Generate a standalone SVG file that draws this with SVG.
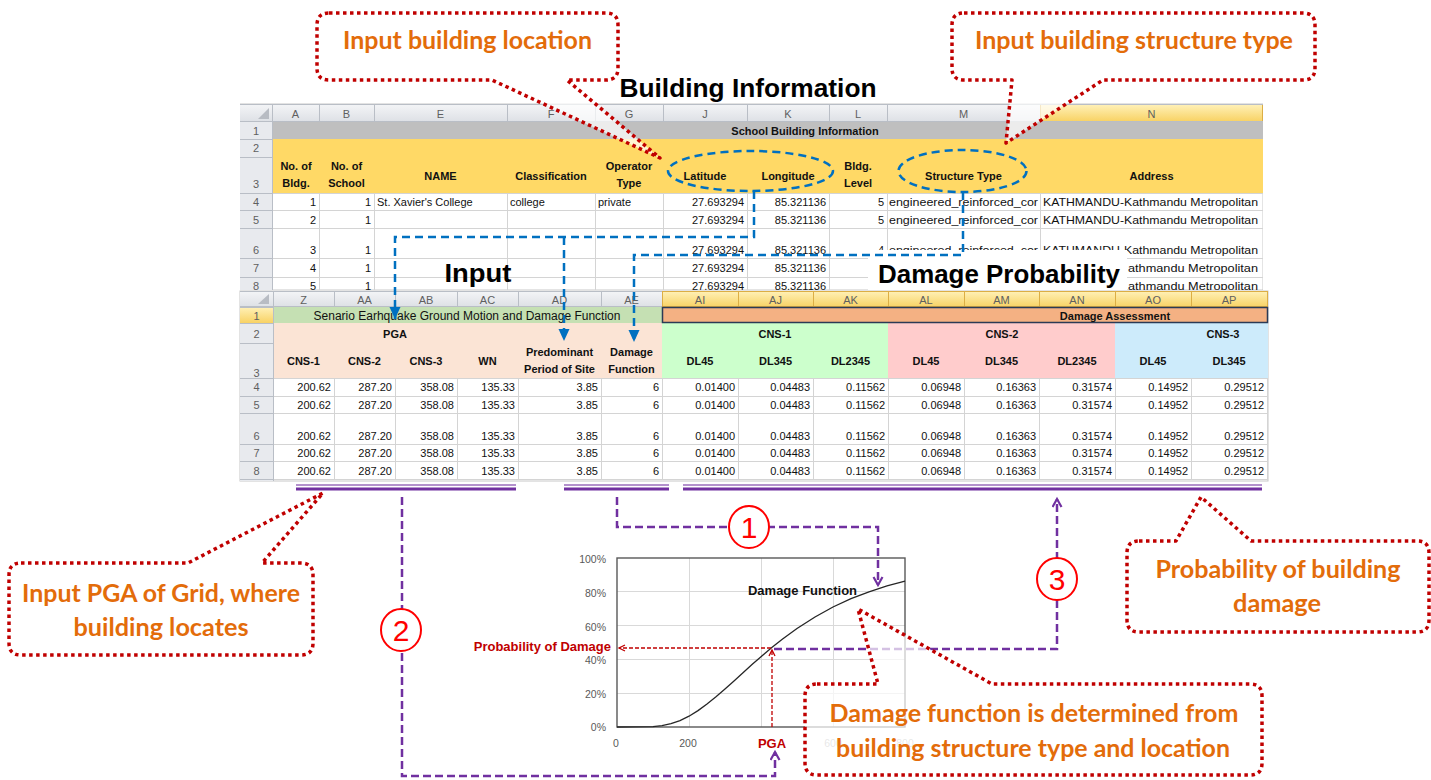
<svg xmlns="http://www.w3.org/2000/svg" width="1431" height="780" viewBox="0 0 1431 780">
<style>
text{font-family:"Liberation Sans",Arial,sans-serif}
.h{font-size:11px;fill:#5f5f5f;text-anchor:middle}
.c{font-size:11px;fill:#111}
.r{text-anchor:end}
.cb{font-size:11px;fill:#111;font-weight:bold;text-anchor:middle}
.gl{stroke:#d4d4d4;stroke-width:1;fill:none}
.hl{stroke:#b9bec6;stroke-width:1;fill:none}
.hg{stroke:#dcae45;stroke-width:1;fill:none}
.co{fill:#fff;fill-opacity:.7;stroke:#c00000;stroke-width:3.5;stroke-dasharray:3.5 3.5;stroke-linejoin:round}
.ct{font-family:Lato,"Liberation Sans",sans-serif;font-weight:bold;font-size:25px;fill:#e36c0a;text-anchor:middle}
.tt{font-weight:bold;font-size:26px;fill:#000;text-anchor:middle}
.bl{fill:none;stroke:#0070c0;stroke-width:2.5;stroke-dasharray:8 5}
.pl{fill:none;stroke:#7030a0;stroke-width:2.5;stroke-dasharray:8 4}
.rd{fill:none;stroke:#c00000;stroke-width:1.3;stroke-dasharray:4 2}
.num{fill:#fff;stroke:#ff0000;stroke-width:2}
.nt{font-size:30px;fill:#ff0000;text-anchor:middle}
.ax{font-size:10.5px;fill:#595959}
.cg{stroke:#d9d9d9;stroke-width:1;fill:none}
</style>
<defs>
<linearGradient id="hgr" x1="0" y1="0" x2="0" y2="1"><stop offset="0" stop-color="#f4f5f7"/><stop offset="1" stop-color="#dde0e5"/></linearGradient>
<linearGradient id="sgr" x1="0" y1="0" x2="0" y2="1"><stop offset="0" stop-color="#fff1b8"/><stop offset="1" stop-color="#f8d264"/></linearGradient>
<clipPath id="clipTop"><rect x="240" y="103" width="1023" height="187"/></clipPath>
<marker id="ab" markerUnits="userSpaceOnUse" markerWidth="14" markerHeight="14" refX="12" refY="5.5" orient="auto"><path d="M0,0 L12,5.5 L0,11 z" fill="#0070c0"/></marker>
<marker id="ap" markerUnits="userSpaceOnUse" markerWidth="12" markerHeight="12" refX="9" refY="5.5" orient="auto"><path d="M1,1 L9,5.5 L1,10" fill="none" stroke="#7030a0" stroke-width="2.2"/></marker>
<marker id="ar" markerUnits="userSpaceOnUse" markerWidth="9" markerHeight="9" refX="7" refY="4" orient="auto"><path d="M1,1 L7,4 L1,7" fill="none" stroke="#c00000" stroke-width="1.3"/></marker>
</defs>

<rect width="1431" height="780" fill="#fff"/>

<!-- top spreadsheet -->
<g id="sheet-building-information" clip-path="url(#clipTop)">
<rect x="240" y="104" width="1023" height="186" fill="#fff" stroke="#c8c8c8"/>
<rect x="240" y="104" width="1023" height="18" fill="url(#hgr)"/>
<rect x="1040.5" y="104.5" width="222" height="17" fill="url(#sgr)" stroke="#dcae45"/>
<rect x="240" y="122" width="32" height="168" fill="#e8eaee"/>
<rect x="272" y="122" width="991" height="17" fill="#bfbfbf"/>
<rect x="272" y="139" width="991" height="54" fill="#ffd966"/>
<path class="gl" d="M272 193.5H1263M272 210.5H1263M272 228.5H1263M272 258.5H1263M272 277.5H1263M319.5 193V290M374.5 193V290M507.5 193V290M595.5 193V290M663.5 193V290M747.5 193V290M829.5 193V290M887.5 193V290M1040.5 193V290"/>
<path class="hl" d="M240 104.5H1263M240 121.5H1263M272.5 104V290M319.5 104V122M374.5 104V122M507.5 104V122M595.5 104V122M663.5 104V122M747.5 104V122M829.5 104V122M887.5 104V122M240 139.5H272M240 157.5H272M240 193.5H272M240 210.5H272M240 228.5H272M240 258.5H272M240 277.5H272"/>
<polygon points="258,119 269,119 269,108" fill="#b8bcc3"/>
<text class="h" x="295.5" y="118">A</text>
<text class="h" x="346.5" y="118">B</text>
<text class="h" x="440.5" y="118">E</text>
<text class="h" x="551" y="118">F</text>
<text class="h" x="629" y="118">G</text>
<text class="h" x="705" y="118">J</text>
<text class="h" x="788" y="118">K</text>
<text class="h" x="858" y="118">L</text>
<text class="h" x="963.5" y="118">M</text>
<text class="h" x="1151.5" y="118">N</text>
<text class="h" x="256" y="135">1</text>
<text class="h" x="256" y="152">2</text>
<text class="h" x="256" y="188">3</text>
<text class="h" x="256" y="206">4</text>
<text class="h" x="256" y="224">5</text>
<text class="h" x="256" y="254">6</text>
<text class="h" x="256" y="272">7</text>
<text class="h" x="256" y="290">8</text>
<text class="cb" x="805" y="135">School Building Information</text>
<text class="cb" x="296" y="170">No. of</text>
<text class="cb" x="296" y="187">Bldg.</text>
<text class="cb" x="346.5" y="170">No. of</text>
<text class="cb" x="346.5" y="187">School</text>
<text class="cb" x="440.5" y="180">NAME</text>
<text class="cb" x="551" y="180">Classification</text>
<text class="cb" x="629" y="170">Operator</text>
<text class="cb" x="629" y="187">Type</text>
<text class="cb" x="705" y="180">Latitude</text>
<text class="cb" x="788" y="180">Longitude</text>
<text class="cb" x="858" y="170">Bldg.</text>
<text class="cb" x="858" y="187">Level</text>
<text class="cb" x="963.5" y="180">Structure Type</text>
<text class="cb" x="1151.5" y="180">Address</text>
<!-- row 4 -->
<text class="c r" x="316" y="206">1</text>
<text class="c r" x="371" y="206">1</text>
<text class="c" x="377" y="206">St. Xavier's College</text>
<text class="c" x="510" y="206">college</text>
<text class="c" x="598" y="206">private</text>
<text class="c r" x="744" y="206">27.693294</text>
<text class="c r" x="826" y="206">85.321136</text>
<text class="c r" x="884" y="206">5</text>
<text class="c" x="889" y="206" textLength="149" lengthAdjust="spacingAndGlyphs">engineered_reinforced_cor</text>
<text class="c" x="1043" y="206" textLength="215" lengthAdjust="spacingAndGlyphs">KATHMANDU-Kathmandu Metropolitan</text>
<!-- row 5 -->
<text class="c r" x="316" y="224">2</text>
<text class="c r" x="371" y="224">1</text>
<text class="c r" x="744" y="224">27.693294</text>
<text class="c r" x="826" y="224">85.321136</text>
<text class="c r" x="884" y="224">5</text>
<text class="c" x="889" y="224" textLength="149" lengthAdjust="spacingAndGlyphs">engineered_reinforced_cor</text>
<text class="c" x="1043" y="224" textLength="215" lengthAdjust="spacingAndGlyphs">KATHMANDU-Kathmandu Metropolitan</text>
<!-- row 6 -->
<text class="c r" x="316" y="254">3</text>
<text class="c r" x="371" y="254">1</text>
<text class="c r" x="744" y="254">27.693294</text>
<text class="c r" x="826" y="254">85.321136</text>
<text class="c r" x="884" y="254">4</text>
<text class="c" x="889" y="254" textLength="149" lengthAdjust="spacingAndGlyphs">engineered_reinforced_cor</text>
<text class="c" x="1043" y="254" textLength="215" lengthAdjust="spacingAndGlyphs">KATHMANDU-Kathmandu Metropolitan</text>
<!-- row 7 -->
<text class="c r" x="316" y="272">4</text>
<text class="c r" x="371" y="272">1</text>
<text class="c r" x="744" y="272">27.693294</text>
<text class="c r" x="826" y="272">85.321136</text>
<!-- row 8 -->
<text class="c r" x="316" y="290">5</text>
<text class="c r" x="371" y="290">1</text>
<text class="c r" x="744" y="290">27.693294</text>
<text class="c r" x="826" y="290">85.321136</text>
<rect x="868" y="250" width="259" height="41" fill="#fff"/>
<text class="c" x="1128" y="272" textLength="130" lengthAdjust="spacingAndGlyphs">athmandu Metropolitan</text>
<text class="c" x="1128" y="290" textLength="130" lengthAdjust="spacingAndGlyphs">athmandu Metropolitan</text>
</g>

<!-- bottom spreadsheet -->
<g id="sheet-damage-assessment">
<rect x="240" y="291" width="1028" height="190" fill="#fff" stroke="#c8c8c8"/>
<rect x="240" y="291" width="1028" height="16" fill="url(#hgr)"/>
<rect x="662" y="291" width="606" height="16" fill="url(#sgr)"/>
<rect x="240" y="307" width="33" height="174" fill="#e8eaee"/>
<rect x="240" y="307" width="33" height="16" fill="url(#sgr)"/>
<rect x="273" y="307" width="389" height="16" fill="#c5e0b3"/>
<rect x="662" y="307" width="606" height="16" fill="#f4b183"/>
<rect x="273" y="323" width="389" height="55" fill="#fbe4d5"/>
<rect x="662" y="323" width="226" height="55" fill="#ccffcc"/>
<rect x="888" y="323" width="227" height="55" fill="#ffcccc"/>
<rect x="1115" y="323" width="153" height="55" fill="#cdebfb"/>
<path class="gl" d="M273 378.5H1268M273 396.5H1268M273 413.5H1268M273 444.5H1268M273 461.5H1268M273 479.5H1268M334.5 378V480M395.5 378V480M457.5 378V480M518.5 378V480M601.5 378V480M662.5 378V480M738.5 378V480M813.5 378V480M888.5 378V480M964.5 378V480M1039.5 378V480M1115.5 378V480M1191.5 378V480M1267.5 378V480"/>
<path class="hl" d="M240 291.5H662M240 306.5H662M273.5 291V481M334.5 291V307M395.5 291V307M457.5 291V307M518.5 291V307M601.5 291V307M240 307.5H273M240 323.5H273M240 343.5H273M240 378.5H273M240 396.5H273M240 413.5H273M240 444.5H273M240 461.5H273M240 479.5H273"/>
<path class="hg" d="M662 291.5H1268M662 306.5H1268M662.5 291V307M738.5 291V307M813.5 291V307M888.5 291V307M964.5 291V307M1039.5 291V307M1115.5 291V307M1191.5 291V307M1267.5 291V307"/>
<rect x="662.5" y="307.5" width="605" height="15" fill="none" stroke="#2b3a55" stroke-width="1.5"/>
<polygon points="258,304 269,304 269,294" fill="#b8bcc3"/>
<text class="h" x="303.5" y="304">Z</text>
<text class="h" x="364.5" y="304">AA</text>
<text class="h" x="426" y="304">AB</text>
<text class="h" x="487.5" y="304">AC</text>
<text class="h" x="559.5" y="304">AD</text>
<text class="h" x="631.5" y="304">AE</text>
<text class="h" x="700" y="304">AI</text>
<text class="h" x="775.5" y="304">AJ</text>
<text class="h" x="850.5" y="304">AK</text>
<text class="h" x="926" y="304">AL</text>
<text class="h" x="1001.5" y="304">AM</text>
<text class="h" x="1077" y="304">AN</text>
<text class="h" x="1153" y="304">AO</text>
<text class="h" x="1229" y="304">AP</text>
<text class="h" x="256.5" y="320">1</text>
<text class="h" x="256.5" y="338">2</text>
<text class="h" x="256.5" y="377">3</text>
<text class="h" x="256.5" y="391">4</text>
<text class="h" x="256.5" y="409">5</text>
<text class="h" x="256.5" y="440">6</text>
<text class="h" x="256.5" y="457">7</text>
<text class="h" x="256.5" y="475">8</text>
<text x="467" y="320" font-size="12" fill="#111" text-anchor="middle">Senario Earhquake Ground Motion and Damage Function</text>
<text class="cb" x="1115" y="320">Damage Assessment</text>
<text class="cb" x="395" y="338">PGA</text>
<text class="cb" x="775" y="338">CNS-1</text>
<text class="cb" x="1002" y="338">CNS-2</text>
<text class="cb" x="1223" y="338">CNS-3</text>
<text class="cb" x="303.5" y="365">CNS-1</text>
<text class="cb" x="364.5" y="365">CNS-2</text>
<text class="cb" x="426" y="365">CNS-3</text>
<text class="cb" x="487.5" y="365">WN</text>
<text class="cb" x="559.5" y="356">Predominant</text>
<text class="cb" x="559.5" y="373">Period of Site</text>
<text class="cb" x="631.5" y="356">Damage</text>
<text class="cb" x="631.5" y="373">Function</text>
<text class="cb" x="700" y="365">DL45</text>
<text class="cb" x="775.5" y="365">DL345</text>
<text class="cb" x="850.5" y="365">DL2345</text>
<text class="cb" x="926" y="365">DL45</text>
<text class="cb" x="1001.5" y="365">DL345</text>
<text class="cb" x="1077" y="365">DL2345</text>
<text class="cb" x="1153" y="365">DL45</text>
<text class="cb" x="1229" y="365">DL345</text>
<g class="c r">
<text x="331" y="391">200.62</text><text x="392" y="391">287.20</text><text x="454" y="391">358.08</text><text x="515" y="391">135.33</text><text x="598" y="391">3.85</text><text x="659" y="391">6</text><text x="735" y="391">0.01400</text><text x="810" y="391">0.04483</text><text x="885" y="391">0.11562</text><text x="961" y="391">0.06948</text><text x="1036" y="391">0.16363</text><text x="1112" y="391">0.31574</text><text x="1188" y="391">0.14952</text><text x="1264" y="391">0.29512</text>
<text x="331" y="409">200.62</text><text x="392" y="409">287.20</text><text x="454" y="409">358.08</text><text x="515" y="409">135.33</text><text x="598" y="409">3.85</text><text x="659" y="409">6</text><text x="735" y="409">0.01400</text><text x="810" y="409">0.04483</text><text x="885" y="409">0.11562</text><text x="961" y="409">0.06948</text><text x="1036" y="409">0.16363</text><text x="1112" y="409">0.31574</text><text x="1188" y="409">0.14952</text><text x="1264" y="409">0.29512</text>
<text x="331" y="440">200.62</text><text x="392" y="440">287.20</text><text x="454" y="440">358.08</text><text x="515" y="440">135.33</text><text x="598" y="440">3.85</text><text x="659" y="440">6</text><text x="735" y="440">0.01400</text><text x="810" y="440">0.04483</text><text x="885" y="440">0.11562</text><text x="961" y="440">0.06948</text><text x="1036" y="440">0.16363</text><text x="1112" y="440">0.31574</text><text x="1188" y="440">0.14952</text><text x="1264" y="440">0.29512</text>
<text x="331" y="457">200.62</text><text x="392" y="457">287.20</text><text x="454" y="457">358.08</text><text x="515" y="457">135.33</text><text x="598" y="457">3.85</text><text x="659" y="457">6</text><text x="735" y="457">0.01400</text><text x="810" y="457">0.04483</text><text x="885" y="457">0.11562</text><text x="961" y="457">0.06948</text><text x="1036" y="457">0.16363</text><text x="1112" y="457">0.31574</text><text x="1188" y="457">0.14952</text><text x="1264" y="457">0.29512</text>
<text x="331" y="475">200.62</text><text x="392" y="475">287.20</text><text x="454" y="475">358.08</text><text x="515" y="475">135.33</text><text x="598" y="475">3.85</text><text x="659" y="475">6</text><text x="735" y="475">0.01400</text><text x="810" y="475">0.04483</text><text x="885" y="475">0.11562</text><text x="961" y="475">0.06948</text><text x="1036" y="475">0.16363</text><text x="1112" y="475">0.31574</text><text x="1188" y="475">0.14952</text><text x="1264" y="475">0.29512</text>
</g>
</g>

<!-- titles -->
<g id="titles">
<text class="tt" x="748" y="97" textLength="257" lengthAdjust="spacingAndGlyphs">Building Information</text>
<text class="tt" x="478" y="282" textLength="67" lengthAdjust="spacingAndGlyphs">Input</text>
<text class="tt" x="999" y="283" textLength="242" lengthAdjust="spacingAndGlyphs">Damage Probability</text>
</g>

<!-- chart -->
<g id="chart-damage-function">
<path class="cg" d="M689.5 558V727M761.5 558V727M833.5 558V727M617 693.5H905M617 659.5H905M617 625.5H905M617 591.5H905"/>
<rect x="617" y="558" width="288" height="169" fill="none" stroke="#595959" stroke-width="1.4"/>
<polyline fill="none" stroke="#262626" stroke-width="1.3" points="617,727 653,726.6 662,725.6 671,723.7 680,720.6 689,716.2 698,710.6 707,704 716,696.8 725,689 734,680.9 743,672.7 752,664.6 761,656.7 771.8,647.6 782.6,639.1 797,628.5 815,617 833,607 851,598.7 869,591.8 887,585.9 905,581.2"/>
<text class="ax r" x="606" y="563">100%</text>
<text class="ax r" x="606" y="597">80%</text>
<text class="ax r" x="606" y="631">60%</text>
<text class="ax r" x="606" y="664">40%</text>
<text class="ax r" x="606" y="698">20%</text>
<text class="ax r" x="606" y="731">0%</text>
<text class="ax" x="616" y="747" text-anchor="middle">0</text>
<text class="ax" x="688" y="747" text-anchor="middle">200</text>
<text class="ax" x="833" y="747" text-anchor="middle" fill-opacity=".5">600</text>
<text class="ax" x="905" y="747" text-anchor="middle" fill-opacity=".5">800</text>
<text x="802.5" y="595" font-size="13" font-weight="bold" fill="#111" text-anchor="middle">Damage Function</text>
<text x="611" y="651" font-size="13" font-weight="bold" fill="#c00000" text-anchor="end">Probability of Damage</text>
<text x="772" y="748" font-size="13" font-weight="bold" fill="#c00000" text-anchor="middle">PGA</text>
<path class="rd" d="M771 648H619" marker-end="url(#ar)"/>
<path class="rd" d="M772 727V650" marker-end="url(#ar)"/>
</g>

<!-- connectors -->
<g id="connectors">
<ellipse class="bl" cx="750.5" cy="171" rx="82.5" ry="20"/>
<ellipse class="bl" cx="962.5" cy="171" rx="64" ry="21"/>
<path class="bl" d="M754 191V237H395V319" marker-end="url(#ab)"/>
<path class="bl" d="M564 237V341" marker-end="url(#ab)"/>
<path class="bl" d="M963 192V255H634V342" marker-end="url(#ab)"/>
<path d="M296 485H516M564 485H669M683 485H1262" stroke="#7030a0" stroke-width="1.5" opacity=".7"/>
<path d="M296 489H516M564 489H669M683 489H1262" stroke="#7030a0" stroke-width="3"/>
<path class="pl" d="M617 497V527H878V585" marker-end="url(#ap)"/>
<path class="pl" d="M402 497V776H775V752" marker-end="url(#ap)"/>
<path class="pl" d="M774 649H1057V499" marker-end="url(#ap)"/>
</g>

<!-- step numbers -->
<g id="step-1"><ellipse class="num" cx="749" cy="527" rx="20" ry="21"/><text class="nt" x="749" y="538">1</text></g>
<g id="step-2"><ellipse class="num" cx="401" cy="630" rx="20" ry="21"/><text class="nt" x="401" y="641">2</text></g>
<g id="step-3"><ellipse class="num" cx="1057" cy="579" rx="20" ry="21"/><text class="nt" x="1057" y="590">3</text></g>

<!-- callouts -->
<g id="callout-location">
<path class="co" d="M329 13H606Q618 13 618 25V68Q618 80 606 80H567L660 158L492 80H329Q317 80 317 68V25Q317 13 329 13Z"/>
<text class="ct" x="467.5" y="49" textLength="249" lengthAdjust="spacingAndGlyphs">Input building location</text>
</g>
<g id="callout-structure-type">
<path class="co" d="M964 13H1303Q1315 13 1315 25V68Q1315 80 1303 80H1103L1006 143L1012 80H964Q952 80 952 68V25Q952 13 964 13Z"/>
<text class="ct" x="1134" y="49" textLength="318" lengthAdjust="spacingAndGlyphs">Input building structure type</text>
</g>
<g id="callout-pga">
<path class="co" d="M21 563H188L323 493L262 563H301Q313 563 313 575V643Q313 655 301 655H21Q9 655 9 643V575Q9 563 21 563Z"/>
<text class="ct" x="161" y="602" textLength="278" lengthAdjust="spacingAndGlyphs">Input PGA of Grid, where</text>
<text class="ct" x="161" y="636" textLength="175" lengthAdjust="spacingAndGlyphs">building locates</text>
</g>
<g id="callout-probability">
<path class="co" d="M1139 541H1176L1201 497L1251 541H1417Q1429 541 1429 553V620Q1429 632 1417 632H1139Q1127 632 1127 620V553Q1127 541 1139 541Z"/>
<text class="ct" x="1278" y="578" textLength="245" lengthAdjust="spacingAndGlyphs">Probability of building</text>
<text class="ct" x="1277" y="612" textLength="88" lengthAdjust="spacingAndGlyphs">damage</text>
</g>
<g id="callout-damage-function">
<path class="co" d="M817 684H878L858 609L992 684H1250Q1262 684 1262 696V763Q1262 775 1250 775H817Q805 775 805 763V696Q805 684 817 684Z"/>
<text class="ct" x="1034" y="722" textLength="409" lengthAdjust="spacingAndGlyphs">Damage function is determined from</text>
<text class="ct" x="1033" y="757" textLength="394" lengthAdjust="spacingAndGlyphs">building structure type and location</text>
</g>
</svg>
